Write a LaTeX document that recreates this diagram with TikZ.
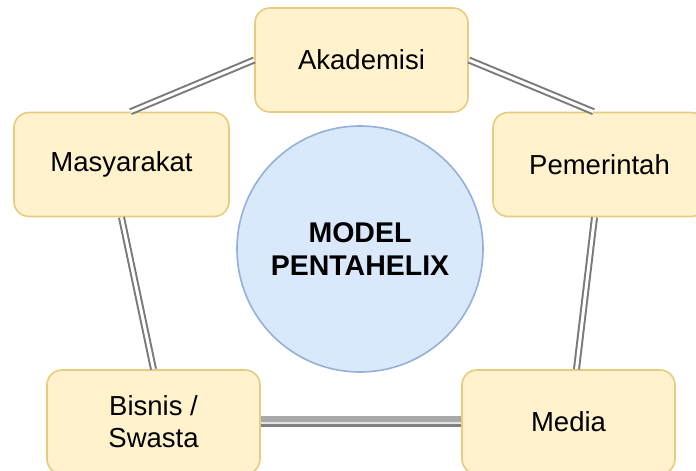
\documentclass[tikz,border=0pt]{standalone}
\usepackage{fontspec}
\setmainfont{Liberation Sans}
\usetikzlibrary{positioning,calc}

\definecolor{boxfill}{HTML}{FFF2CC}
\definecolor{boxline}{HTML}{E6CC80}
\definecolor{hubfill}{HTML}{DAE8FC}
\definecolor{hubline}{HTML}{94B0D8}
\definecolor{linkline}{HTML}{7A7A7A}
\definecolor{linkdark}{HTML}{808080}
\definecolor{linkmid}{HTML}{A8A8A8}
\definecolor{linklight}{HTML}{E4E4E4}

\tikzset{
  actor/.style={draw=boxline, fill=boxfill, line width=1.6pt, rounded corners=15pt,
    minimum width=213pt, minimum height=104pt, inner sep=0pt, align=center,
    font=\fontsize{27.5}{32}\selectfont},
  hub/.style={circle, draw=hubline, fill=hubfill, line width=1.6pt, minimum size=246pt,
    inner sep=0pt, align=center, font=\fontsize{28.5}{33}\selectfont\bfseries},
  link/.style={draw=linkline, line width=2pt, double=white, double distance=3pt},
}

\begin{document}
\begin{tikzpicture}[x=1pt,y=-1pt]
  \useasboundingbox (0,0) rectangle (696,471);

  % Centre of the model
  \node[hub] (hub) at (360,249) {MODEL\\PENTAHELIX};

  % The five actors
  \node[actor] (aka) at (361.5,60) {Akademisi};
  \node[actor, minimum width=215pt] (mas) at (121.5,164.5) {Masyarakat};
  \node[actor] (pem) at (599.5,164.5) {Pemerintah};
  \node[actor] (bis) at (153.5,422) {Bisnis /\\Swasta};
  \node[actor] (med) at (568.5,422) {Media};

  % Links between the actors
  \draw[link] (aka.west) -- ([xshift=9pt]mas.north);
  \draw[link] (aka.east) -- ([xshift=-6pt]pem.north);
  \draw[link] (mas.south) -- (bis.north);
  \draw[link] ([xshift=-5pt]pem.south) -- ([xshift=8pt]med.north);

  % Wide link at the bottom
  \draw[draw=linkmid, line width=10pt] ([yshift=1pt]bis.east) -- ([yshift=1pt]med.west);
  \draw[draw=linkdark, line width=3pt] ([yshift=-3.5pt]bis.east) -- ([yshift=-3.5pt]med.west);
  \draw[draw=linklight, line width=2.5pt] ([yshift=-1pt]bis.east) -- ([yshift=-1pt]med.west);
\end{tikzpicture}
\end{document}
